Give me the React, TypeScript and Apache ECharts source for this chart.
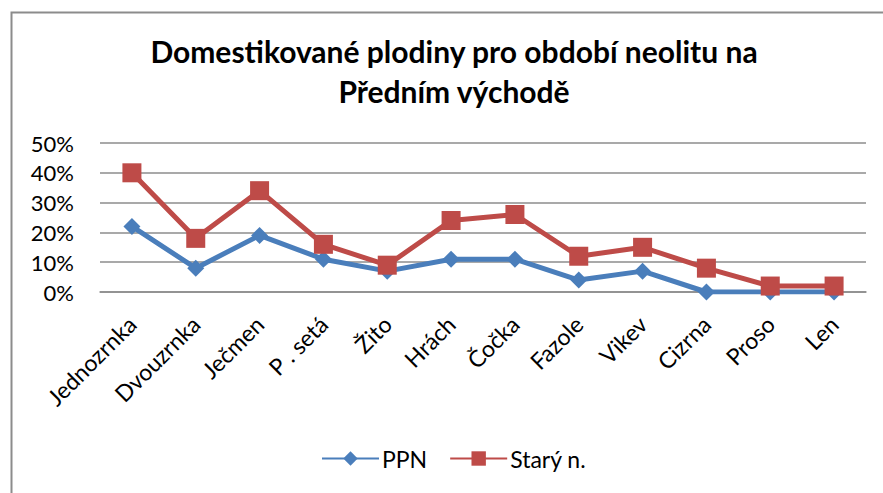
import React, { useEffect, useRef } from "react";
import * as echarts from "echarts";

const categories = ["Jednozrnka", "Dvouzrnka", "Ječmen", "P . setá", "Žito", "Hrách", "Čočka", "Fazole", "Vikev", "Cizrna", "Proso", "Len"];
const ppn = [22, 8, 19, 11, 7, 11, 11, 4, 7, 0, 0, 0];
const staryN = [40, 18, 34, 16, 9, 24, 26, 12, 15, 8, 2, 2];
const titleText = "Domestikované plodiny pro období neolitu na\nPředním východě";

const FONT = "Lato, 'Open Sans', sans-serif";

export default function App() {
  const ref = useRef<HTMLDivElement>(null);
  useEffect(() => {
    if (!ref.current) return;
    const chart = echarts.init(ref.current, null, { renderer: "svg" });
    chart.setOption({
      animation: false,
      backgroundColor: "#ffffff",
      textStyle: { fontFamily: FONT },
      title: {
        text: titleText,
        left: 449,
        textAlign: "center",
        top: 26,
        textStyle: { fontFamily: FONT, fontSize: 30, fontWeight: "bold", color: "#000", lineHeight: 40 },
      },
      graphic: [
        {
          type: "rect",
          shape: { x: 11.5, y: 12.5, width: 1000, height: 1000 },
          style: { fill: "none", stroke: "#8c8c8c", lineWidth: 2 },
          silent: true,
        },
      ],
      legend: {
        bottom: 18,
        left: 316,
        itemWidth: 57,
        itemHeight: 18,
        itemGap: 22,
        textStyle: { fontFamily: FONT, fontSize: 23, color: "#000", padding: [0, 0, 0, -2] },
        data: ["PPN", "Starý n."],
      },
      grid: { left: 100, right: 17, top: 143, bottom: 201, containLabel: false },
      xAxis: {
        type: "category",
        data: categories,
        boundaryGap: true,
        axisLine: { show: true, lineStyle: { color: "#8c8c8c", width: 1.5 } },
        axisTick: { show: false },
        axisLabel: { rotate: 45, fontSize: 23, color: "#000", fontFamily: FONT, margin: 28, interval: 0 },
      },
      yAxis: {
        type: "value",
        min: 0,
        max: 50,
        interval: 10,
        axisLine: { show: false },
        axisTick: { show: false },
        axisLabel: { formatter: "{value}%", fontSize: 22, color: "#000", fontFamily: FONT, margin: 26 },
        splitLine: { lineStyle: { color: "#8c8c8c", width: 1.5 } },
      },
      series: [
        {
          name: "PPN",
          type: "line",
          data: ppn,
          symbol: "diamond",
          symbolSize: 17,
          itemStyle: { color: "#4A7EBB" },
          lineStyle: { color: "#4A7EBB", width: 5 },
        },
        {
          name: "Starý n.",
          type: "line",
          data: staryN,
          symbol: "rect",
          symbolSize: 19,
          itemStyle: { color: "#BE4B48" },
          lineStyle: { color: "#BE4B48", width: 5 },
        },
      ],
    });
    return () => chart.dispose();
  }, []);
  return (
    <div
      ref={ref}
      style={{ position: "fixed", left: 0, top: 0, width: 883, height: 493 }}
    />
  );
}
